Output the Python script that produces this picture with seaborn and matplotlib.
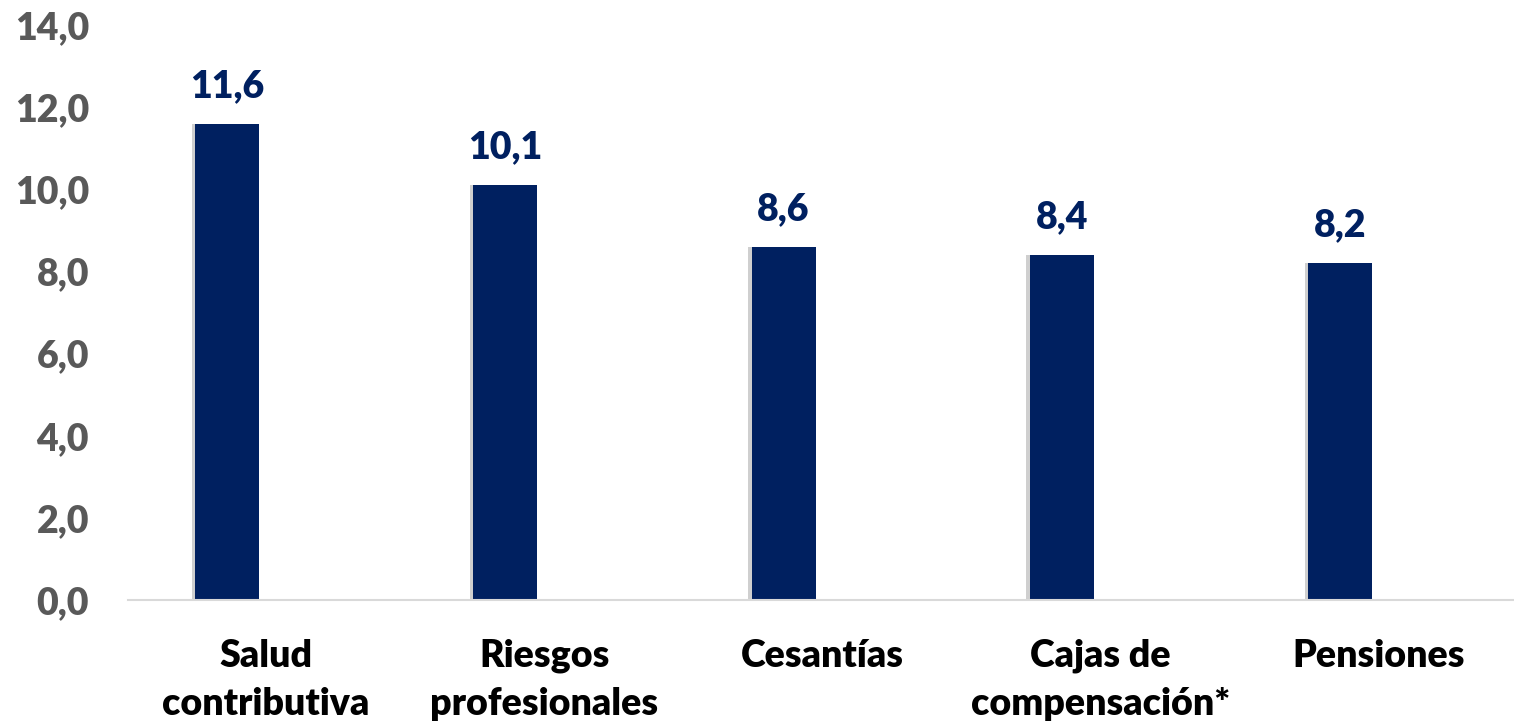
import seaborn as sns
import matplotlib.pyplot as plt
import matplotlib.patheffects as pe
import pandas as pd

categorias = ["Salud\ncontributiva", "Riesgos\nprofesionales", "Cesantías",
              "Cajas de\ncompensación*", "Pensiones"]
valores = [11.6, 10.1, 8.6, 8.4, 8.2]
yticks = [0, 2, 4, 6, 8, 10, 12, 14]

navy = "#002060"
gris = "#595959"

sns.set_theme(style="white")
plt.rcParams["font.family"] = ["Lato", "DejaVu Sans"]

df = pd.DataFrame({"categoria": categorias, "valor": valores})

fig = plt.figure(figsize=(15.14, 7.28), dpi=100)
ax = fig.add_axes([128 / 1514, 1 - 600 / 728, 1 - 128 / 1514, (600 - 25) / 728])

sns.barplot(data=df, x="categoria", y="valor", color=navy, width=0.23,
            saturation=1, linewidth=0, ax=ax)

# soft shadow to the left of each bar
for patch in ax.patches:
    patch.set_path_effects([pe.SimplePatchShadow(offset=(-2.5, 0), alpha=0.25,
                                                 shadow_rgbFace="#404040"),
                            pe.Normal()])

for i, v in enumerate(valores):
    ax.annotate(f"{v:.1f}".replace(".", ","), (i, v), xytext=(0, 15),
                textcoords="offset points", ha="center", va="bottom",
                fontsize=27, fontweight="heavy", color=navy)

ax.set_xlim(-0.356, 4.625)
ax.set_ylim(0, 14)
ax.set_yticks(yticks)
ax.set_yticklabels([f"{t:.1f}".replace(".", ",") for t in yticks],
                   fontsize=27, fontweight="heavy", color=gris)
# category labels sit centred in each slot, a bit right of the bars
ax.set_xticks([i + 0.14 for i in range(len(categorias))])
ax.set_xticklabels(categorias, fontsize=27, fontweight="heavy", color="black",
                   linespacing=1.5)
ax.tick_params(axis="y", length=0, pad=28)
ax.tick_params(axis="x", length=0, pad=28)
ax.set_xlabel("")
ax.set_ylabel("")

for s in ["top", "right", "left"]:
    ax.spines[s].set_visible(False)
ax.spines["bottom"].set_color("#D9D9D9")
ax.spines["bottom"].set_linewidth(1.5)

fig.savefig("out.png", dpi=100)
